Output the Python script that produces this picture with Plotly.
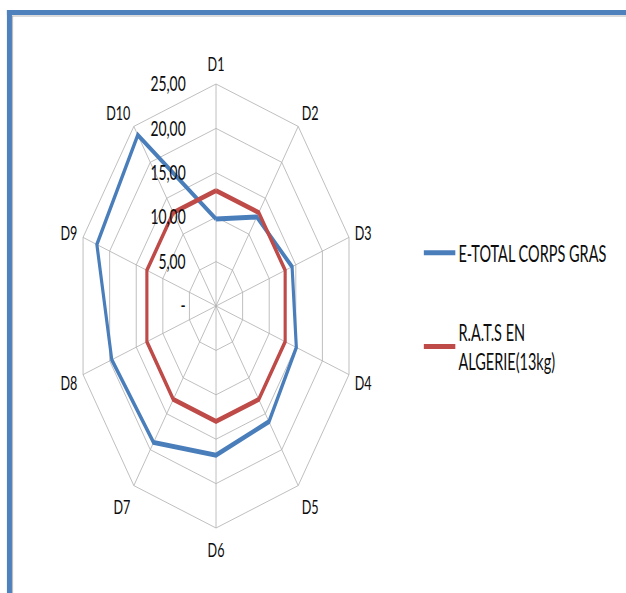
import plotly.graph_objects as go

# Radar categories and series values
categories = ["D1", "D2", "D3", "D4", "D5", "D6", "D7", "D8", "D9", "D10"]
total_corps_gras = [9.8, 12.4, 14.3, 15.1, 16.1, 16.8, 19.0, 19.6, 22.4, 23.8]
rats_algerie = [13, 13, 13, 13, 13, 13, 13, 13, 13, 13]

radial_ticks = [0, 5, 10, 15, 20, 25]
radial_tick_labels = ["-", "5,00", "10,00", "15,00", "20,00", "25,00"]

series_names = ["E-TOTAL CORPS GRAS", "R.A.T.S EN<br>ALGERIE(13kg)"]
series_colors = ["#4a7ebb", "#be4b48"]

# The chart is laid out wide and condensed horizontally in the page
SCALE_X = 0.6298
W, H = 994, 593

FONT = "Lato"
TEXT = "#0d0d0d"

fig = go.Figure()
for i, (name, vals) in enumerate(zip(series_names, [total_corps_gras, rats_algerie])):
    fig.add_trace(go.Scatterpolar(
        r=vals + vals[:1],
        theta=categories + categories[:1],
        mode="lines",
        name=name,
        legendgroup=f"g{i}",
        line=dict(color=series_colors[i], width=5),
        hoverinfo="skip",
    ))

grid = "#b0b0b0"
fig.update_layout(
    width=W, height=H,
    margin=dict(l=0, r=0, t=0, b=0),
    paper_bgcolor="white",
    font=dict(family=FONT, size=19, color=TEXT),
    polar=dict(
        domain=dict(x=[121 / W, 565 / W], y=[65 / H, 509 / H]),
        bgcolor="white",
        gridshape="linear",
        angularaxis=dict(
            direction="clockwise",
            rotation=90,
            linecolor=grid, linewidth=1,
            gridcolor=grid, gridwidth=1,
            ticks="outside", ticklen=5, tickcolor="rgba(0,0,0,0)",
            tickfont=dict(size=20, family=FONT, color=TEXT),
        ),
        radialaxis=dict(
            range=[0, 25],
            angle=90,
            tickangle=90,
            side="counterclockwise",
            tickvals=radial_ticks,
            ticktext=radial_tick_labels,
            showline=False,
            gridcolor=grid, gridwidth=1,
            ticks="outside", ticklen=40, tickcolor="rgba(0,0,0,0)",
            tickfont=dict(size=22, family=FONT, color=TEXT),
        ),
    ),
    showlegend=True,
    legend=dict(
        x=0.672, y=0.61, xanchor="left", yanchor="top",
        font=dict(size=23, family=FONT, color=TEXT),
        tracegroupgap=46,
        itemwidth=50,
        bgcolor="rgba(0,0,0,0)",
    ),
)

# Blue chart frame with a thin grey inner edge
blue = "#4f81bd"
fig.add_shape(type="rect", xref="paper", yref="paper",
              x0=11 / W, x1=1.01, y0=1 - 15 / H, y1=1 - 10 / H,
              line=dict(width=0), fillcolor=blue, layer="above")
fig.add_shape(type="rect", xref="paper", yref="paper",
              x0=11 / W, x1=19 / W, y0=-0.01, y1=1 - 10 / H,
              line=dict(width=0), fillcolor=blue, layer="above")
fig.add_shape(type="line", xref="paper", yref="paper",
              x0=19 / W, x1=1.01, y0=1 - 16 / H, y1=1 - 16 / H,
              line=dict(color="#a6a6a6", width=1))
fig.add_shape(type="line", xref="paper", yref="paper",
              x0=20 / W, x1=20 / W, y0=-0.01, y1=1 - 16 / H,
              line=dict(color="#a6a6a6", width=1))

post = (
    "var d=document.getElementById('{plot_id}');"
    f"d.style.transform='scaleX({SCALE_X})';"
    "d.style.transformOrigin='0 0';"
    "document.body.style.margin='0';"
    "document.body.style.overflow='hidden';"
)

fig.write_html("out.html", post_script=post, config=dict(displayModeBar=False))
